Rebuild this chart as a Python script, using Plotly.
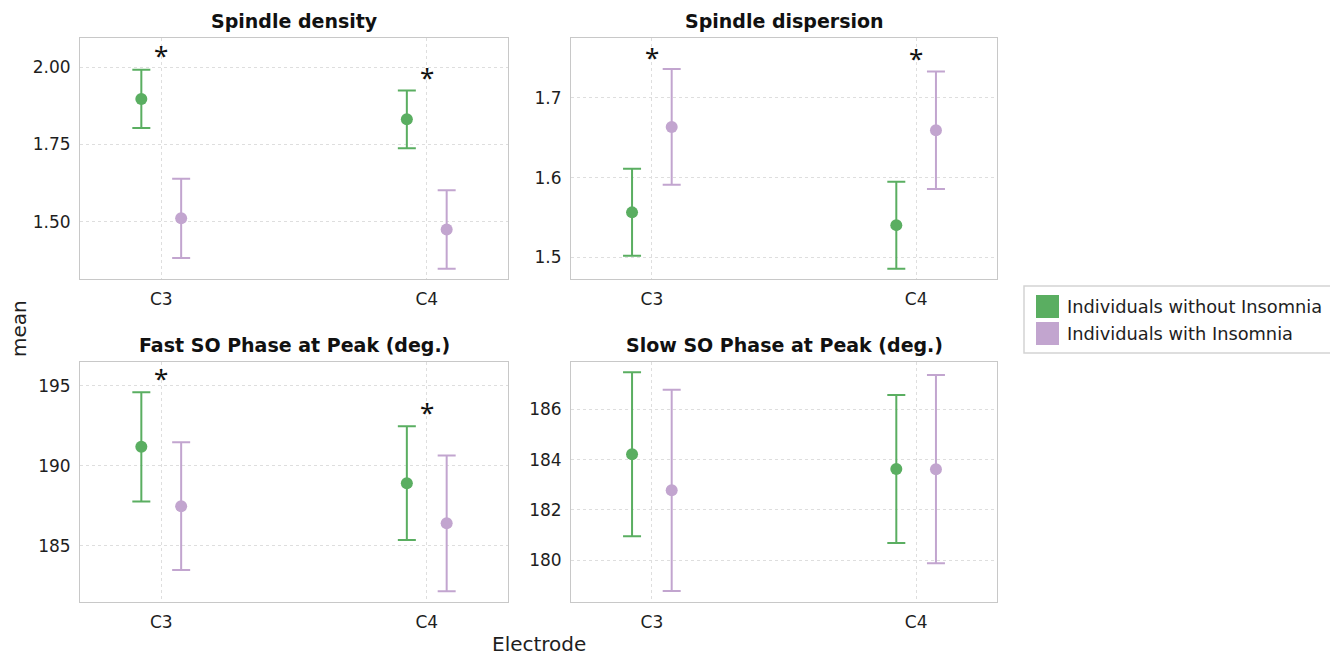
import plotly.graph_objects as go

# ---------------- data ----------------
electrodes = ["C3", "C4"]
groups = ["Individuals without Insomnia", "Individuals with Insomnia"]
colors = ["#5aae61", "#c2a5cf"]

panel_titles = ["Spindle density", "Spindle dispersion",
                "Fast SO Phase at Peak (deg.)", "Slow SO Phase at Peak (deg.)"]

# mean values [group][electrode]
density_mean = [[1.897, 1.831], [1.511, 1.475]]
density_err = [[0.094, 0.093], [0.128, 0.127]]

dispersion_mean = [[1.5565, 1.5405], [1.6636, 1.6594]]
dispersion_err = [[0.0545, 0.0545], [0.0725, 0.0735]]

fast_so_mean = [[191.19, 188.91], [187.47, 186.40]]
fast_so_err = [[3.42, 3.56], [4.00, 4.25]]

slow_so_mean = [[184.21, 183.63], [182.78, 183.62]]
slow_so_err = [[3.26, 2.94], [4.00, 3.74]]

# significance stars (y position per electrode, None = no star)
density_star = [2.055, 1.985]
dispersion_star = [1.758, 1.756]
fast_so_star = [195.8, 193.7]
slow_so_star = [None, None]

y_ranges = [[1.315, 2.094], [1.473, 1.775], [181.47, 196.5], [178.34, 187.88]]
y_ticks = [[1.50, 1.75, 2.00], [1.5, 1.6, 1.7], [185, 190, 195], [180, 182, 184, 186]]
y_ticktext = [["1.50", "1.75", "2.00"], ["1.5", "1.6", "1.7"],
              ["185", "190", "195"], ["180", "182", "184", "186"]]

panels = [
    (density_mean, density_err, density_star),
    (dispersion_mean, dispersion_err, dispersion_star),
    (fast_so_mean, fast_so_err, fast_so_star),
    (slow_so_mean, slow_so_err, slow_so_star),
]

# ---------------- layout geometry ----------------
OFF = 8  # page body margin
W, H = 1338 - OFF, 656 - OFF
FONT = "DejaVu Sans"
TXT = "#1e1e1e"


def px(x):
    return (x - OFF) / W


def py(y):
    return 1 - (y - OFF) / H


x_doms = [[px(80), px(508)], [px(571), px(997)]]
y_doms = [[py(279), py(38)], [py(602), py(362)]]
dodge = 0.075
x_pos = list(range(len(electrodes)))

fig = go.Figure()
layout_axes = {}
annotations = []

for i, (means, errs, stars) in enumerate(panels):
    row, col = divmod(i, 2)
    n = i + 1
    xa = "x" if n == 1 else f"x{n}"
    ya = "y" if n == 1 else f"y{n}"
    for g in range(len(groups)):
        off = -dodge if g == 0 else dodge
        fig.add_trace(go.Scatter(
            x=[p + off for p in x_pos], y=means[g],
            mode="markers",
            marker=dict(color=colors[g], size=12),
            error_y=dict(type="data", array=errs[g], visible=True,
                         color=colors[g], thickness=2, width=9),
            name=groups[g], showlegend=False,
            xaxis=xa, yaxis=ya, hoverinfo="skip",
        ))
    for k in range(len(electrodes)):
        if stars[k] is not None:
            annotations.append(dict(
                text="*", xref=xa, yref=ya, x=x_pos[k], y=stars[k],
                showarrow=False, xanchor="center", yanchor="middle", yshift=-5,
                font=dict(size=26, color="#111111", family="Noto Sans")))
    common = dict(showline=True, linecolor="#c8c8c8", linewidth=1, mirror=True,
                  showgrid=True, gridcolor="#dedede", griddash="dot", gridwidth=1,
                  zeroline=False, automargin=False,
                  tickfont=dict(size=17, color=TXT, family=FONT),
                  ticks="outside", ticklen=5, tickcolor="rgba(0,0,0,0)")
    layout_axes["xaxis" if n == 1 else f"xaxis{n}"] = dict(
        domain=x_doms[col], anchor=ya, range=[-0.306, 1.306],
        tickmode="array", tickvals=x_pos, ticktext=electrodes, **common)
    layout_axes["yaxis" if n == 1 else f"yaxis{n}"] = dict(
        domain=y_doms[row], anchor=xa, range=y_ranges[i],
        tickmode="array", tickvals=y_ticks[i], ticktext=y_ticktext[i], **common)
    annotations.append(dict(
        text=f"<b>{panel_titles[i]}</b>", xref="paper", yref="paper",
        x=sum(x_doms[col]) / 2, y=y_doms[row][1] + 4 / H,
        xanchor="center", yanchor="bottom", showarrow=False,
        font=dict(size=19, color="#111111", family=FONT)))

# axis titles
annotations.append(dict(text="mean", xref="paper", yref="paper", x=px(19), y=py(329),
                        textangle=-90, showarrow=False, xanchor="center", yanchor="middle",
                        font=dict(size=20, color=TXT, family=FONT)))
annotations.append(dict(text="Electrode", xref="paper", yref="paper", x=px(539), y=py(644),
                        showarrow=False, xanchor="center", yanchor="middle",
                        font=dict(size=20, color=TXT, family=FONT)))

# legend (drawn box)
shapes = [dict(type="rect", xref="paper", yref="paper",
               x0=px(1024), x1=px(1335), y0=py(353), y1=py(286),
               line=dict(color="#d4d4d4", width=1.5), fillcolor="white")]
leg_rows = [(295, 318), (322, 345)]
for g, (t, b) in enumerate(leg_rows):
    shapes.append(dict(type="rect", xref="paper", yref="paper",
                       x0=px(1036), x1=px(1059), y0=py(b), y1=py(t),
                       line=dict(width=0), fillcolor=colors[g]))
    annotations.append(dict(text=groups[g], xref="paper", yref="paper",
                            x=px(1065), y=py((t + b) / 2), xanchor="left", yanchor="middle",
                            showarrow=False, font=dict(size=17.8, color=TXT, family=FONT)))

fig.update_layout(
    width=W, height=H, margin=dict(l=0, r=0, t=0, b=0),
    paper_bgcolor="white", plot_bgcolor="white",
    annotations=annotations, shapes=shapes, showlegend=False,
    font=dict(family=FONT), **layout_axes)

fig.write_html("out.html")
